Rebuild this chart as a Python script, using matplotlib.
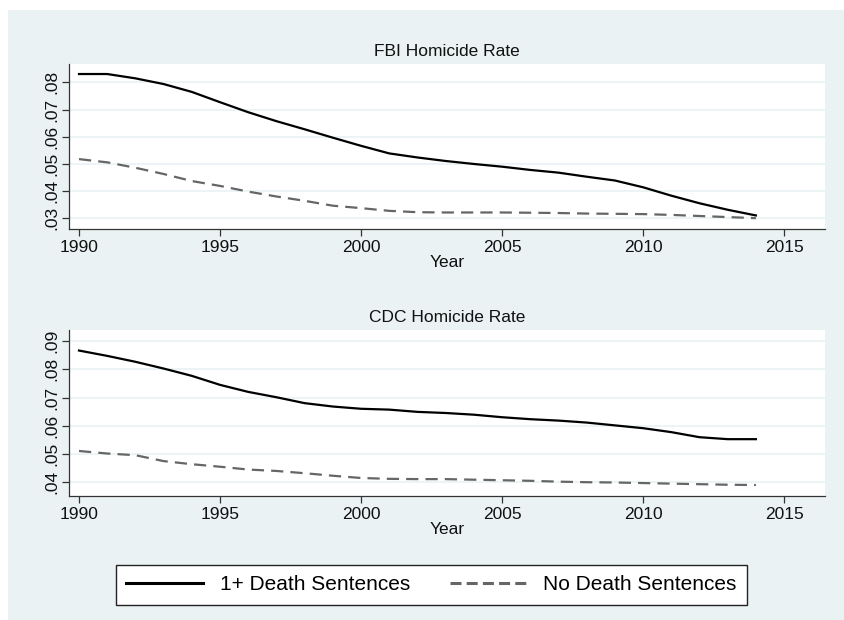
import matplotlib
matplotlib.use("Agg")
import matplotlib.pyplot as plt
from matplotlib.patches import Rectangle
from matplotlib.ticker import FuncFormatter
from matplotlib.lines import Line2D

years = list(range(1990, 2015))

fbi_death = [0.0831, 0.0831, 0.0815, 0.0794, 0.0765, 0.0727, 0.0690, 0.0657, 0.0627,
             0.0596, 0.0566, 0.0538, 0.0523, 0.0510, 0.0499, 0.0489, 0.0477, 0.0467,
             0.0452, 0.0438, 0.0413, 0.0382, 0.0354, 0.0330, 0.0309]
fbi_none = [0.0517, 0.0505, 0.0485, 0.0462, 0.0436, 0.0418, 0.0397, 0.0379, 0.0363,
            0.0345, 0.0336, 0.0326, 0.0321, 0.0320, 0.0320, 0.0320, 0.0319, 0.0318,
            0.0316, 0.0315, 0.0314, 0.0311, 0.0307, 0.0303, 0.0299]

cdc_death = [0.0867, 0.0848, 0.0827, 0.0803, 0.0777, 0.0745, 0.0720, 0.0701, 0.0680,
             0.0668, 0.0660, 0.0657, 0.0649, 0.0645, 0.0639, 0.0630, 0.0623, 0.0618,
             0.0611, 0.0601, 0.0591, 0.0577, 0.0559, 0.0552, 0.0552]
cdc_none = [0.0510, 0.0501, 0.0495, 0.0474, 0.0463, 0.0454, 0.0444, 0.0439, 0.0431,
            0.0422, 0.0414, 0.0411, 0.0410, 0.0410, 0.0408, 0.0406, 0.0404, 0.0401,
            0.0399, 0.0398, 0.0396, 0.0394, 0.0392, 0.0390, 0.0389]

x_ticks = [1990, 1995, 2000, 2005, 2010, 2015]
fbi_yticks = [0.03, 0.04, 0.05, 0.06, 0.07, 0.08]
cdc_yticks = [0.04, 0.05, 0.06, 0.07, 0.08, 0.09]

series_labels = ["1+ Death Sentences", "No Death Sentences"]

BG = "#EAF2F3"
W, H = 844, 620
plt.rcParams["font.family"] = ["Liberation Sans", "DejaVu Sans"]

fig = plt.figure(figsize=(W / 100, H / 100), dpi=100)
fig.patch.set_facecolor("white")
fig.patches.append(Rectangle((8 / W, 0), 1, 1 - 10 / H, transform=fig.transFigure,
                             facecolor=BG, edgecolor="none", zorder=-10))


def frac(left, top, right, bottom):
    return [left / W, 1 - bottom / H, (right - left) / W, (bottom - top) / H]


def panel(rect, title, d1, d2, yticks, ylim):
    ax = fig.add_axes(rect)
    ax.set_facecolor("white")
    ax.plot(years, d1, color="black", lw=1.6, solid_joinstyle="round")
    ax.plot(years, d2, color="#666666", lw=1.6, dashes=(5.5, 3.2))
    ax.set_xlim(1989.645, 2016.45)
    ax.set_ylim(*ylim)
    ax.set_xticks(x_ticks)
    ax.set_yticks(yticks)
    ax.yaxis.set_major_formatter(FuncFormatter(lambda v, p: f"{v:.2f}".lstrip("0")))
    for lab in ax.get_yticklabels():
        lab.set_rotation(90)
        lab.set_va("center")
    ax.grid(axis="y", color=BG, lw=1.2)
    ax.set_axisbelow(True)
    for s in ("top", "right"):
        ax.spines[s].set_visible(False)
    for s in ("left", "bottom"):
        ax.spines[s].set_color("#333333")
        ax.spines[s].set_linewidth(0.9)
    ax.tick_params(axis="both", direction="out", length=5, width=0.9, color="#333333",
                   labelsize=12.5, labelcolor="#111111")
    ax.tick_params(axis="x", pad=3)
    ax.tick_params(axis="y", pad=2)
    ax.set_title(title, fontsize=12.5, pad=6, color="#111111")
    ax.set_xlabel("Year", fontsize=12.5, labelpad=0, color="#111111")
    return ax


panel(frac(69, 64, 825, 229), "FBI Homicide Rate", fbi_death, fbi_none,
      fbi_yticks, (0.0259, 0.0868))
panel(frac(69, 330, 825, 496), "CDC Homicide Rate", cdc_death, cdc_none,
      cdc_yticks, (0.0350, 0.0940))

handles = [Line2D([], [], color="black", lw=2.2),
           Line2D([], [], color="#666666", lw=2.2, dashes=(3.6, 1.7))]
leg = fig.legend(handles, series_labels, loc="center", ncol=2,
                 bbox_to_anchor=(431.5 / W, 1 - 585 / H), fontsize=15,
                 frameon=True, fancybox=False, handlelength=3.7, handletextpad=0.8,
                 columnspacing=1.9, borderpad=0.5, borderaxespad=0)
fr = leg.get_frame()
fr.set_edgecolor("#222222")
fr.set_linewidth(1.0)
fr.set_facecolor("white")
fr.set_alpha(1)

fig.savefig("out.png", dpi=100, facecolor=fig.get_facecolor())
